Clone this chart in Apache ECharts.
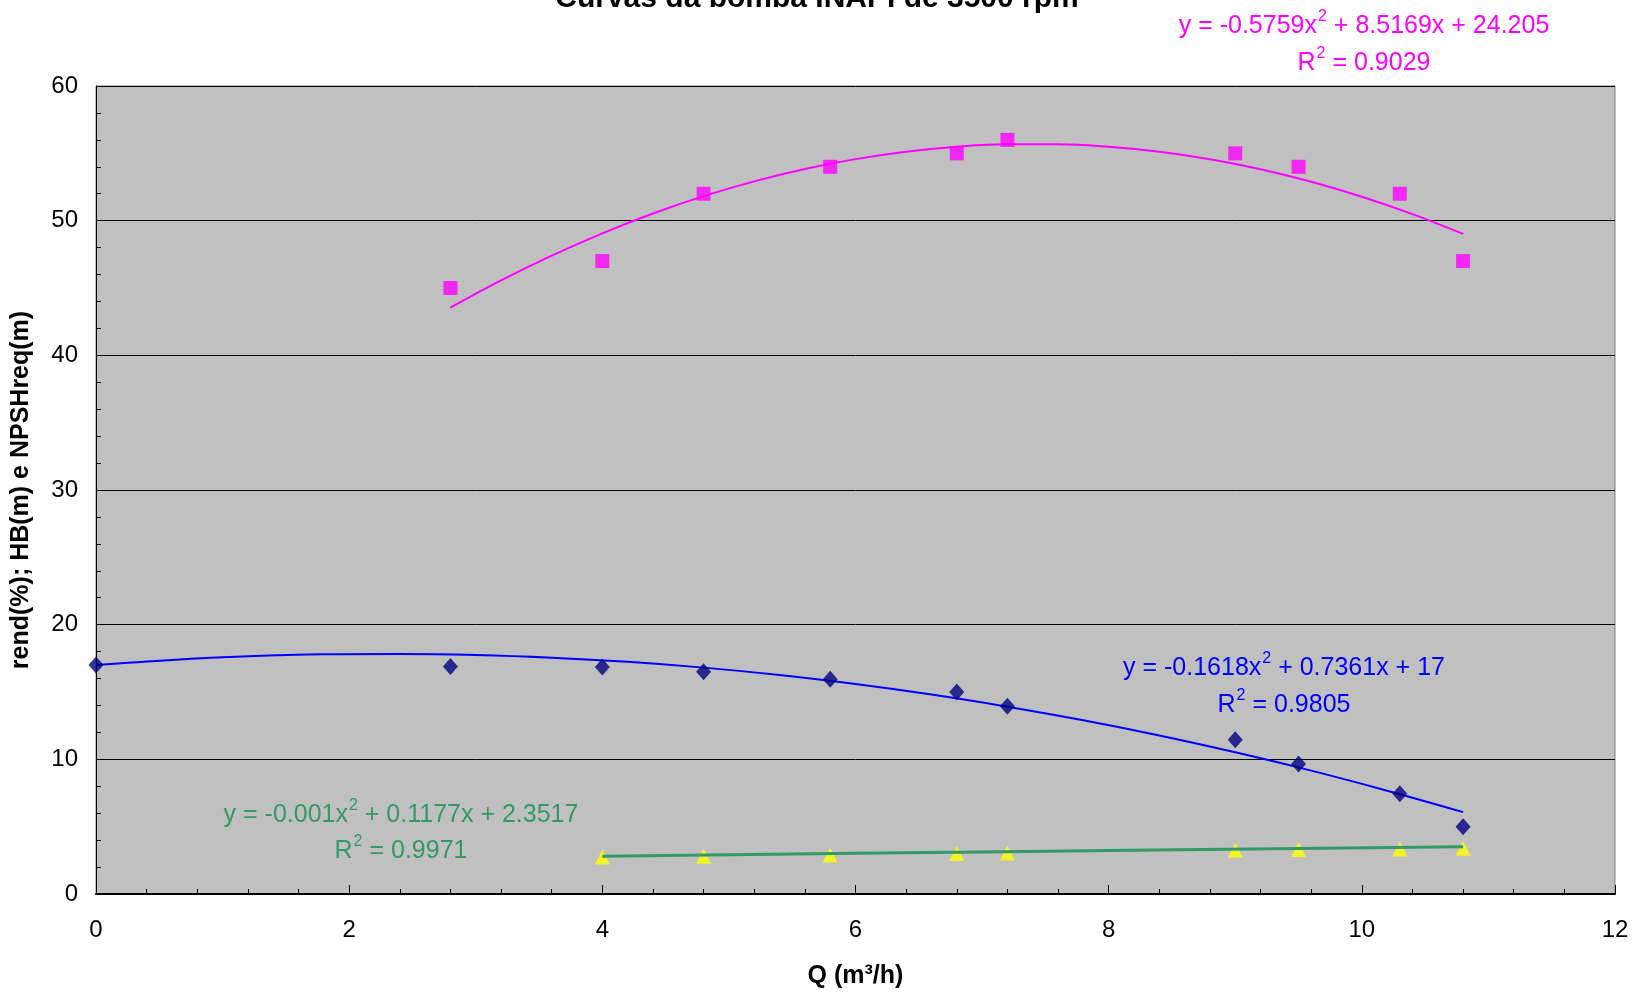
<!DOCTYPE html>
<html>
<head>
<meta charset="utf-8">
<script src="https://cdn.jsdelivr.net/npm/echarts@6/dist/echarts.min.js"></script>
<style>html,body{margin:0;padding:0;background:#fff;}#c{width:1642px;height:994px;}</style>
</head>
<body>
<div id="c"></div>
<script>
// Data
const rendQ = [2.8, 4, 4.8, 5.8, 6.8, 7.2, 9, 9.5, 10.3, 10.8];
const rendV = [45, 47, 52, 54, 55, 56, 55, 54, 52, 47];
const hbQ = [0, 2.8, 4, 4.8, 5.8, 6.8, 7.2, 9, 9.5, 10.3, 10.8];
const hbV = [17, 16.9, 16.85, 16.5, 15.95, 15, 13.95, 11.45, 9.65, 7.45, 5];
const npshQ = [4, 4.8, 5.8, 6.8, 7.2, 9, 9.5, 10.3, 10.8];
const npshV = [2.75, 2.8, 2.9, 3.0, 3.05, 3.25, 3.3, 3.35, 3.4];
// Trendline points
const rendTrendQ = [2.8, 3.2, 3.6, 4.0, 4.4, 4.8, 5.2, 5.6, 6.0, 6.4, 6.8, 7.2, 7.6, 8.0, 8.4, 8.8, 9.2, 9.6, 10.0, 10.4, 10.8];
const rendTrendV = [43.54, 45.56, 47.40, 49.06, 50.53, 51.82, 52.92, 53.84, 54.57, 55.12, 55.49, 55.67, 55.67, 55.48, 55.11, 54.56, 53.82, 52.89, 51.78, 50.49, 49.02];
const hbTrendQ = [0, 0.6, 1.2, 1.8, 2.4, 3.0, 3.6, 4.2, 4.8, 5.4, 6.0, 6.6, 7.2, 7.8, 8.4, 9.0, 9.6, 10.2, 10.8];
const hbTrendV = [17, 17.38, 17.65, 17.80, 17.83, 17.75, 17.55, 17.24, 16.81, 16.26, 15.59, 14.81, 13.91, 12.90, 11.77, 10.52, 9.16, 7.67, 6.08];
const npshTrendQ = [4, 6, 8, 10.8];
const npshTrendV = [2.81, 3.02, 3.23, 3.51];
const xTicks = [0, 2, 4, 6, 8, 10, 12];
const yTicks = [0, 10, 20, 30, 40, 50, 60];

const titleText = 'Curvas da bomba INAPI de 3500 rpm';
const eqRend = ['y = -0.5759x', ' + 8.5169x + 24.205', 'R', ' = 0.9029'];
const eqHb = ['y = -0.1618x', ' + 0.7361x + 17', 'R', ' = 0.9805'];
const eqNpsh = ['y = -0.001x', ' + 0.1177x + 2.3517', 'R', ' = 0.9971'];

const zip = (a, b) => a.map((v, i) => [v, b[i]]);
const FONT = '"Liberation Sans", Arial, sans-serif';

function eqRich(color) {
  return {
    n: {fontSize: 25, fontFamily: FONT, fill: color, lineHeight: 30, verticalAlign: 'bottom'},
    s: {fontSize: 16, fontFamily: FONT, fill: color, lineHeight: 30, verticalAlign: 'top', padding: [0, 0, 0, 1]}
  };
}
function eqGraphic(eq, x, y1, y2, color) {
  return [
    {type: 'text', x: x, y: y1, style: {text: '{n|' + eq[0] + '}{s|2}{n|' + eq[1] + '}', rich: eqRich(color), align: 'center', verticalAlign: 'middle', fill: color}},
    {type: 'text', x: x, y: y2, style: {text: '{n|' + eq[2] + '}{s|2}{n|' + eq[3] + '}', rich: eqRich(color), align: 'center', verticalAlign: 'middle', fill: color}}
  ];
}

const chart = echarts.init(document.getElementById('c'));
chart.setOption({
  animation: false,
  backgroundColor: '#ffffff',
  grid: {left: 96, right: 27, top: 86, bottom: 99, show: true, backgroundColor: '#c0c0c0', borderColor: '#808080', borderWidth: 1},
  xAxis: {
    type: 'value', min: xTicks[0], max: xTicks[xTicks.length - 1], interval: 2,
    name: 'Q (m³/h)', nameLocation: 'middle', nameGap: 70,
    nameTextStyle: {fontFamily: FONT, fontSize: 25, fontWeight: 'bold', color: '#000'},
    axisLine: {show: true, lineStyle: {color: '#000', width: 2}},
    axisTick: {show: true, inside: true, length: 9, lineStyle: {color: '#000', width: 1}},
    minorTick: {show: true, splitNumber: 5, length: 5, lineStyle: {color: '#000', width: 1}},
    axisLabel: {fontFamily: FONT, fontSize: 24, color: '#000', margin: 24},
    splitLine: {show: false}
  },
  yAxis: {
    type: 'value', min: yTicks[0], max: yTicks[yTicks.length - 1], interval: 10,
    name: 'rend(%); HB(m) e NPSHreq(m)', nameLocation: 'middle', nameGap: 62,
    nameTextStyle: {fontFamily: FONT, fontSize: 25, fontWeight: 'bold', color: '#000'},
    axisLine: {show: true, lineStyle: {color: '#000', width: 1}},
    axisTick: {show: true, inside: true, length: 9, lineStyle: {color: '#000', width: 1}},
    minorTick: {show: true, splitNumber: 5, length: 5, lineStyle: {color: '#000', width: 1}},
    axisLabel: {fontFamily: FONT, fontSize: 24, color: '#000', margin: 18},
    splitLine: {show: true, lineStyle: {color: '#000', width: 1}}
  },
  series: [
    {type: 'line', data: zip(rendTrendQ, rendTrendV), smooth: 0.4, showSymbol: false, lineStyle: {color: '#ff00ff', width: 2}, z: 3},
    {type: 'line', data: zip(hbTrendQ, hbTrendV), smooth: 0.4, showSymbol: false, lineStyle: {color: '#0000ff', width: 2}, z: 3},
    {type: 'line', data: zip(npshTrendQ, npshTrendV), smooth: true, showSymbol: false, lineStyle: {color: '#339966', width: 3}, z: 3},
    {type: 'scatter', data: zip(rendQ, rendV), symbol: 'rect', symbolSize: 14, itemStyle: {color: '#ff00ff'}, z: 4},
    {type: 'scatter', data: zip(hbQ, hbV), symbol: 'diamond', symbolSize: [15, 17], itemStyle: {color: '#000080'}, z: 4},
    {type: 'scatter', data: zip(npshQ, npshV), symbol: 'triangle', symbolSize: [15, 15], itemStyle: {color: '#ffff00'}, z: 2}
  ],
  graphic: [
    {type: 'text', x: 817, y: -1, style: {text: titleText, fontFamily: FONT, fontSize: 30, fontWeight: 'bold', fill: '#000', align: 'center', verticalAlign: 'middle'}}
  ].concat(
    eqGraphic(eqRend, 1364, 24, 61, '#ff00ff'),
    eqGraphic(eqHb, 1284, 666, 703, '#0000ff'),
    eqGraphic(eqNpsh, 401, 813, 849, '#339966')
  )
});
</script>
</body>
</html>
